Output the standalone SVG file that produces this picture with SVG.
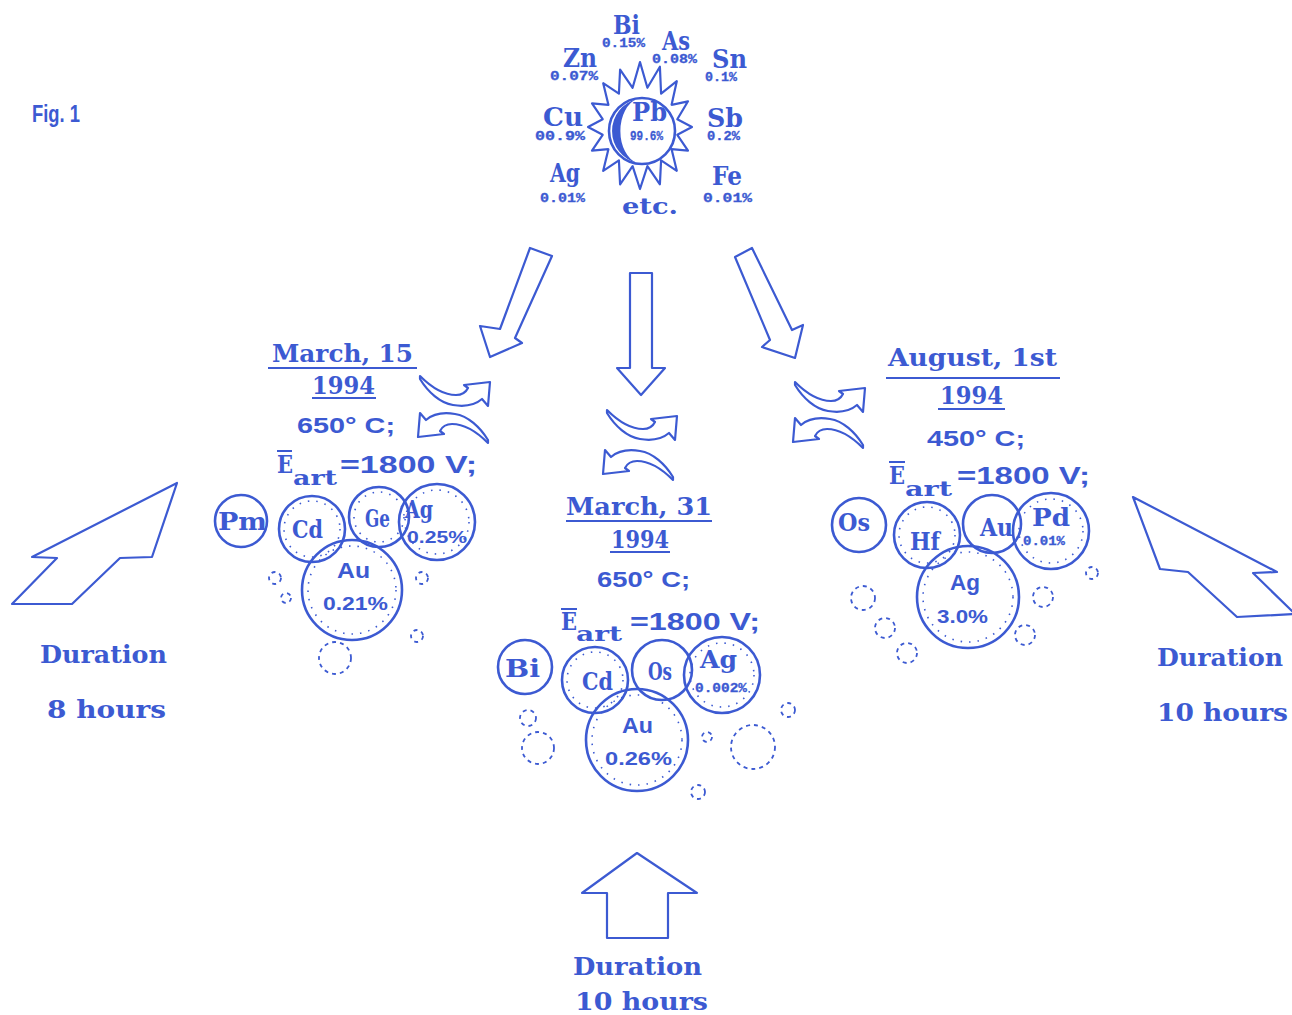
<svg xmlns="http://www.w3.org/2000/svg" width="1292" height="1015" viewBox="0 0 1292 1015">
<style>
.ln{fill:none;stroke:#3c5ad2;stroke-width:2.2;stroke-linejoin:round}
.ul{stroke:#3c5ad2;stroke-width:2}
.c{fill:none;stroke:#3c5ad2;stroke-width:2.6}
.st{fill:none;stroke:#3c5ad2;stroke-width:1.6;stroke-dasharray:1.5 7}
.d{fill:none;stroke:#3c5ad2;stroke-width:1.8;stroke-dasharray:4 4}
.m{font-family:"DejaVu Serif","Liberation Serif",serif;font-weight:bold;fill:#3c5ad2}
.t{font-family:"Liberation Mono","DejaVu Sans Mono",monospace;font-weight:bold;fill:#3c5ad2;stroke:#3c5ad2;stroke-width:0.3}
.s{font-family:"Liberation Sans",Arial,sans-serif;font-weight:bold;fill:#3c5ad2}
.big{font-size:26px}
.sm{font-size:12px}
.lab{font-size:24px}
.dur{font-size:25px}
</style>
<defs>
<path id="swap" class="ln" d="M0,0 C12,12 24,19 36,19 C42,19 46,16 48,12 L44,9 L70,6 L68,30 L62,23 C55,29 45,31 33,29 C20,27 8,16 0,3 Z"/>
</defs>
<rect width="1292" height="1015" fill="#ffffff"/>

<text class="s" x="32" y="122" font-size="24" textLength="48" lengthAdjust="spacingAndGlyphs">Fig. 1</text>

<g id="source">
<polygon class="ln" points="640,62 647.4,87.8 659.9,66.7 661.1,93.7 676.8,81.2 671.6,104.8 688,101.3 677.3,119.2 692,127 677.3,134.8 688,150.7 671.6,149.2 676.8,170.8 661.1,160.3 659.9,184.3 647.4,166.2 640,189 632.6,166.2 620.1,184.3 618.9,160.3 603.2,170.8 608.4,149.2 592,150.7 602.7,134.8 588,127 602.7,119.2 592,103.3 608.4,104.8 603.2,83.2 618.9,93.7 620.1,69.7 632.6,87.8"/>
<circle class="c" cx="642" cy="131" r="33" fill="#ffffff"/>
<path d="M637,99 A33,33 0 0 0 637,163 A22,33 0 0 1 637,99 Z" fill="#3c5ad2"/>
<text class="m big" x="632" y="121" textLength="35" lengthAdjust="spacingAndGlyphs">Pb</text>
<text class="t sm" x="630" y="140" font-size="11" textLength="33" lengthAdjust="spacingAndGlyphs">99.6%</text>
<text class="m big" x="613" y="34" textLength="27" lengthAdjust="spacingAndGlyphs">Bi</text>
<text class="t sm" x="602" y="47" textLength="43" lengthAdjust="spacingAndGlyphs">0.15%</text>
<text class="m big" x="662" y="50" textLength="28" lengthAdjust="spacingAndGlyphs">As</text>
<text class="t sm" x="652" y="63" textLength="45" lengthAdjust="spacingAndGlyphs">0.08%</text>
<text class="m big" x="563" y="67" textLength="34" lengthAdjust="spacingAndGlyphs">Zn</text>
<text class="t sm" x="550" y="80" textLength="48" lengthAdjust="spacingAndGlyphs">0.07%</text>
<text class="m big" x="712" y="68" textLength="35" lengthAdjust="spacingAndGlyphs">Sn</text>
<text class="t sm" x="705" y="81" textLength="32" lengthAdjust="spacingAndGlyphs">0.1%</text>
<text class="m big" x="543" y="126" textLength="40" lengthAdjust="spacingAndGlyphs">Cu</text>
<text class="t sm" x="535" y="140" textLength="50" lengthAdjust="spacingAndGlyphs">00.9%</text>
<text class="m big" x="707" y="127" textLength="36" lengthAdjust="spacingAndGlyphs">Sb</text>
<text class="t sm" x="707" y="140" textLength="33" lengthAdjust="spacingAndGlyphs">0.2%</text>
<text class="m big" x="550" y="182" textLength="30" lengthAdjust="spacingAndGlyphs">Ag</text>
<text class="t sm" x="540" y="202" textLength="45" lengthAdjust="spacingAndGlyphs">0.01%</text>
<text class="m big" x="712" y="185" textLength="30" lengthAdjust="spacingAndGlyphs">Fe</text>
<text class="t sm" x="703" y="202" textLength="49" lengthAdjust="spacingAndGlyphs">0.01%</text>
<text class="m" x="622" y="214" font-size="22" font-weight="normal" textLength="56" lengthAdjust="spacingAndGlyphs">etc.</text>
</g>

<g id="connectors">
<polygon class="ln" points="530,248 552,256 515,338 522,343 490,357 480,326 500,329"/>
<polygon class="ln" points="630,273 652,273 652,368 665,368 641,395 617,368 630,368"/>
<polygon class="ln" points="735,257 752,248 792,330 803,325 795,358 762,347 770,340"/>
<use href="#swap" transform="translate(420,376)"/>
<use href="#swap" transform="translate(488,443) rotate(180)"/>
<use href="#swap" transform="translate(607,410)"/>
<use href="#swap" transform="translate(673,480) rotate(180)"/>
<use href="#swap" transform="translate(795,382)"/>
<use href="#swap" transform="translate(863,448) rotate(180)"/>
<polygon class="ln" points="177,483 152,557 120,558 72,604 12,604 57,558 32,557"/>
<polygon class="ln" points="1133,497 1277,572 1253,573 1295,614 1237,617 1188,572 1160,569"/>
<polygon class="ln" points="637,853 697,893 668,893 668,938 607,938 607,893 582,893"/>
</g>

<g id="run-march15">
<text class="m lab" x="272" y="362" textLength="141" lengthAdjust="spacingAndGlyphs">March, 15</text>
<line class="ul" x1="268" y1="368" x2="417" y2="368"/>
<text class="m lab" x="312" y="394" textLength="63" lengthAdjust="spacingAndGlyphs">1994</text>
<line class="ul" x1="312" y1="398" x2="376" y2="398"/>
<text class="s" x="297" y="433" font-size="22" textLength="98" lengthAdjust="spacingAndGlyphs">650° C;</text>
<text class="m lab" x="277" y="473" textLength="16" lengthAdjust="spacingAndGlyphs">E</text>
<line class="ul" x1="277" y1="451" x2="292" y2="451"/>
<text class="m" x="293" y="485" font-size="21" textLength="44" lengthAdjust="spacingAndGlyphs">art</text>
<text class="s" x="340" y="473" font-size="23" textLength="137" lengthAdjust="spacingAndGlyphs">=1800  V;</text>
<circle class="c" cx="241" cy="521" r="26"/>
<circle class="c" cx="312" cy="529" r="33"/>
<circle class="st" cx="312" cy="529" r="28"/>
<circle class="c" cx="379" cy="517" r="30"/>
<circle class="st" cx="379" cy="517" r="25"/>
<circle class="c" cx="437" cy="522" r="38"/>
<circle class="st" cx="437" cy="522" r="32"/>
<circle class="c" cx="352" cy="590" r="50"/>
<circle class="st" cx="352" cy="590" r="44"/>
<circle class="d" cx="275" cy="578" r="6"/>
<circle class="d" cx="286" cy="598" r="5"/>
<circle class="d" cx="422" cy="578" r="6"/>
<circle class="d" cx="417" cy="636" r="6"/>
<circle class="d" cx="335" cy="658" r="16"/>
<text class="m lab" x="218" y="530" textLength="49" lengthAdjust="spacingAndGlyphs">Pm</text>
<text class="m lab" x="292" y="538" textLength="31" lengthAdjust="spacingAndGlyphs">Cd</text>
<text class="m lab" x="365" y="527" textLength="25" lengthAdjust="spacingAndGlyphs">Ge</text>
<text class="m lab" x="405" y="518" textLength="28" lengthAdjust="spacingAndGlyphs">Ag</text>
<text class="s" x="407" y="543" font-size="17" textLength="60" lengthAdjust="spacingAndGlyphs">0.25%</text>
<text class="s" x="337" y="578" font-size="22" textLength="33" lengthAdjust="spacingAndGlyphs">Au</text>
<text class="s" x="323" y="610" font-size="18" textLength="65" lengthAdjust="spacingAndGlyphs">0.21%</text>
</g>

<g id="run-march31">
<text class="m lab" x="566" y="515" textLength="146" lengthAdjust="spacingAndGlyphs">March, 31</text>
<line class="ul" x1="566" y1="521" x2="712" y2="521"/>
<text class="m lab" x="611" y="548" textLength="58" lengthAdjust="spacingAndGlyphs">1994</text>
<line class="ul" x1="610" y1="552" x2="670" y2="552"/>
<text class="s" x="597" y="587" font-size="22" textLength="93" lengthAdjust="spacingAndGlyphs">650° C;</text>
<text class="m lab" x="561" y="630" textLength="16" lengthAdjust="spacingAndGlyphs">E</text>
<line class="ul" x1="561" y1="609" x2="577" y2="609"/>
<text class="m" x="576" y="641" font-size="21" textLength="46" lengthAdjust="spacingAndGlyphs">art</text>
<text class="s" x="630" y="630" font-size="23" textLength="130" lengthAdjust="spacingAndGlyphs">=1800  V;</text>
<circle class="c" cx="525" cy="667" r="27"/>
<circle class="c" cx="595" cy="680" r="33"/>
<circle class="st" cx="595" cy="680" r="28"/>
<circle class="c" cx="662" cy="670" r="30"/>
<circle class="c" cx="722" cy="675" r="38"/>
<circle class="st" cx="722" cy="675" r="32"/>
<circle class="c" cx="637" cy="740" r="51"/>
<circle class="st" cx="637" cy="740" r="45"/>
<circle class="d" cx="528" cy="718" r="8"/>
<circle class="d" cx="538" cy="748" r="16"/>
<circle class="d" cx="707" cy="737" r="5"/>
<circle class="d" cx="788" cy="710" r="7"/>
<circle class="d" cx="753" cy="747" r="22"/>
<circle class="d" cx="698" cy="792" r="7"/>
<text class="m lab" x="505" y="677" textLength="35" lengthAdjust="spacingAndGlyphs">Bi</text>
<text class="m lab" x="582" y="690" textLength="31" lengthAdjust="spacingAndGlyphs">Cd</text>
<text class="m lab" x="648" y="680" textLength="24" lengthAdjust="spacingAndGlyphs">Os</text>
<text class="m lab" x="700" y="668" textLength="37" lengthAdjust="spacingAndGlyphs">Ag</text>
<text class="t sm" x="695" y="692" textLength="52" lengthAdjust="spacingAndGlyphs">0.002%</text>
<text class="s" x="622" y="733" font-size="22" textLength="31" lengthAdjust="spacingAndGlyphs">Au</text>
<text class="s" x="605" y="765" font-size="19" textLength="67" lengthAdjust="spacingAndGlyphs">0.26%</text>
</g>

<g id="run-august1">
<text class="m lab" x="888" y="366" textLength="169" lengthAdjust="spacingAndGlyphs">August, 1st</text>
<line class="ul" x1="886" y1="378" x2="1060" y2="378"/>
<text class="m lab" x="940" y="404" textLength="63" lengthAdjust="spacingAndGlyphs">1994</text>
<line class="ul" x1="938" y1="409" x2="1005" y2="409"/>
<text class="s" x="927" y="446" font-size="22" textLength="98" lengthAdjust="spacingAndGlyphs">450° C;</text>
<text class="m lab" x="889" y="484" textLength="16" lengthAdjust="spacingAndGlyphs">E</text>
<line class="ul" x1="889" y1="462" x2="905" y2="462"/>
<text class="m" x="905" y="496" font-size="21" textLength="47" lengthAdjust="spacingAndGlyphs">art</text>
<text class="s" x="957" y="484" font-size="23" textLength="133" lengthAdjust="spacingAndGlyphs">=1800  V;</text>
<circle class="c" cx="859" cy="525" r="27"/>
<circle class="c" cx="927" cy="535" r="33"/>
<circle class="st" cx="927" cy="535" r="28"/>
<circle class="c" cx="992" cy="524" r="29"/>
<circle class="c" cx="1051" cy="531" r="38"/>
<circle class="st" cx="1051" cy="531" r="32"/>
<circle class="c" cx="968" cy="597" r="51"/>
<circle class="st" cx="968" cy="597" r="45"/>
<circle class="d" cx="863" cy="598" r="12"/>
<circle class="d" cx="885" cy="628" r="10"/>
<circle class="d" cx="907" cy="653" r="10"/>
<circle class="d" cx="1043" cy="597" r="10"/>
<circle class="d" cx="1025" cy="635" r="10"/>
<circle class="d" cx="1092" cy="573" r="6"/>
<text class="m lab" x="838" y="531" textLength="32" lengthAdjust="spacingAndGlyphs">Os</text>
<text class="m lab" x="910" y="550" textLength="30" lengthAdjust="spacingAndGlyphs">Hf</text>
<text class="m lab" x="980" y="536" textLength="33" lengthAdjust="spacingAndGlyphs">Au</text>
<text class="m lab" x="1032" y="526" textLength="38" lengthAdjust="spacingAndGlyphs">Pd</text>
<text class="t sm" x="1023" y="545" textLength="42" lengthAdjust="spacingAndGlyphs">0.01%</text>
<text class="s" x="950" y="590" font-size="22" textLength="30" lengthAdjust="spacingAndGlyphs">Ag</text>
<text class="s" x="937" y="623" font-size="18" textLength="51" lengthAdjust="spacingAndGlyphs">3.0%</text>
</g>

<g id="duration-left">
<text class="m dur" x="40" y="663" textLength="127" lengthAdjust="spacingAndGlyphs">Duration</text>
<text class="m dur" x="47" y="718" textLength="119" lengthAdjust="spacingAndGlyphs">8 hours</text>
</g>
<g id="duration-right">
<text class="m dur" x="1157" y="666" textLength="126" lengthAdjust="spacingAndGlyphs">Duration</text>
<text class="m dur" x="1157" y="721" textLength="131" lengthAdjust="spacingAndGlyphs">10 hours</text>
</g>
<g id="duration-bottom">
<text class="m dur" x="573" y="975" textLength="129" lengthAdjust="spacingAndGlyphs">Duration</text>
<text class="m dur" x="575" y="1010" textLength="133" lengthAdjust="spacingAndGlyphs">10 hours</text>
</g>
</svg>
